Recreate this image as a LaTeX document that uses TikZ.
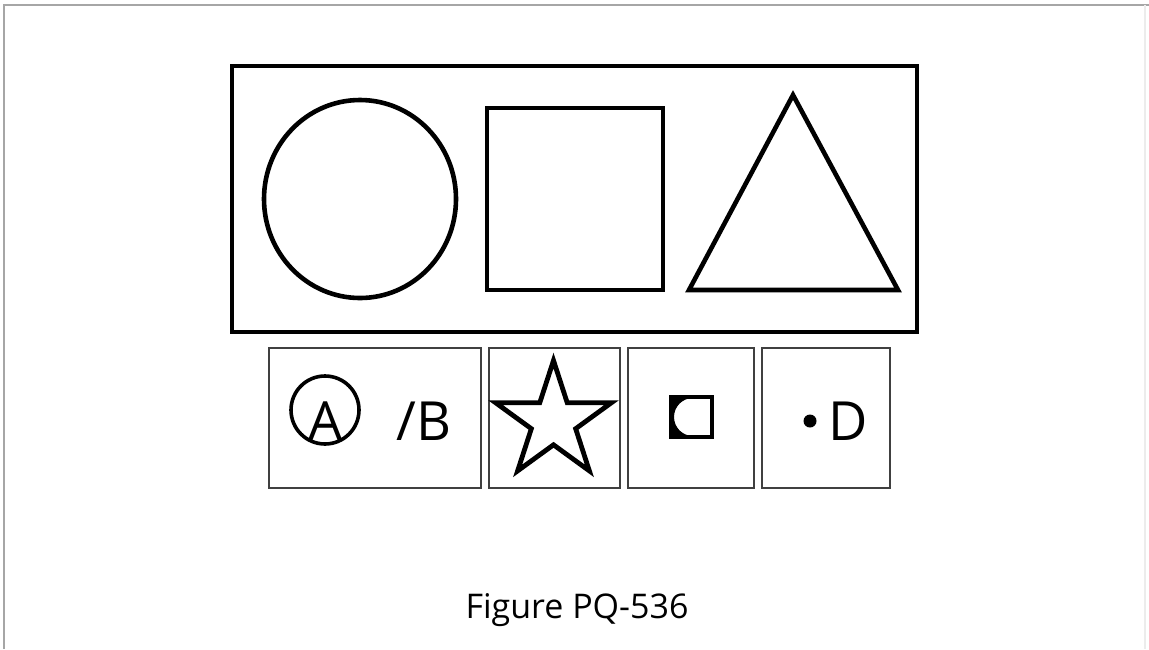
\documentclass[tikz,border=0pt]{standalone}
\usepackage{fontspec}
\setmainfont{Open Sans}
\usepackage{tikz}
\usetikzlibrary{positioning}

\tikzset{
    shapeline/.style={line width=4.6pt, black},
    cellbox/.style={line width=1.7pt, black!75},
    letter/.style={inner sep=0pt, font=\fontsize{54}{54}\selectfont},
}

\begin{document}
\begin{tikzpicture}[x=1pt, y=-1pt]
    % Canvas, pixel grid of the reference
    \useasboundingbox (0,0) rectangle (1149,649);
    \fill[white] (0,0) rectangle (1149,649);
    \draw[gray!70, line width=2pt] (4,649) -- (4,5) -- (1149,5);
    \draw[gray!15, line width=1.5pt] (1145,5) -- (1145,649);

    % Top panel with the three shapes
    \draw[shapeline] (232,66) rectangle (917,332);
    \draw[shapeline] (360,199) ellipse (96 and 99);
    \draw[shapeline] (487,108) rectangle (663,290);
    \draw[shapeline, line join=miter] (793,95) -- (898,290) -- (689,290) -- cycle;

    % Row of four answer cells
    \draw[cellbox] (269,348) rectangle (481,488);
    \draw[cellbox] (489,348) rectangle (620,488);
    \draw[cellbox] (628,348) rectangle (754,488);
    \draw[cellbox] (762,348) rectangle (890,488);

    % Cell 1: circled A and /B
    \draw[line width=3.6pt] (325,410) circle (34);
    \node[letter, anchor=base] (lettA) at (326,440) {A};
    \node[letter, anchor=base west] (lettB) at (396,440) {/B};

    % Cell 2: star
    \draw[line width=4.8pt, shift={(553.5,421.5)}]
        (-90:61) \foreach \i in {1,...,9} {-- ({-90+36*\i}:{ifthenelse(isodd(\i),23.3,61)})} -- cycle;

    % Cell 3: square with a circle cut out on the left
    \begin{scope}
        \clip (671,397) rectangle (693,437);
        \fill[even odd rule] (671,397) rectangle (713,437) (693,417) circle (19);
    \end{scope}
    \draw[line width=3.8pt] (671,397) rectangle (712,437);

    % Cell 4: dot and D
    \fill (810,421) circle (6.5);
    \node[letter, anchor=base west] (lettD) at (828,440) {D};

    % Caption
    \node[inner sep=0pt, anchor=base, font=\fontsize{34}{34}\selectfont] (caption) at (577,618) {Figure PQ-536};
\end{tikzpicture}
\end{document}
